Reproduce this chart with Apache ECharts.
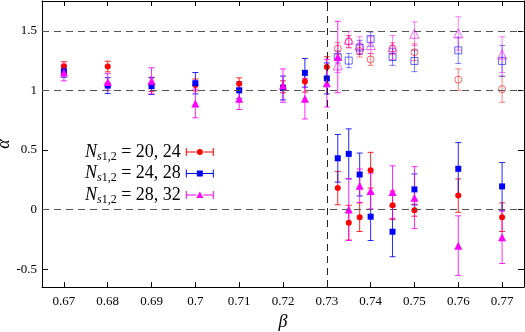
<!DOCTYPE html>
<html><head><meta charset="utf-8">
<script src="https://cdn.jsdelivr.net/npm/echarts@6/dist/echarts.min.js"></script>
<style>html,body{margin:0;padding:0;background:#fff}#c{width:525px;height:332px}</style>
</head><body><div id="c"></div>
<script>
// ---- data ----
const betas = [0.67,0.68,0.69,0.70,0.71,0.72,0.725,0.73,0.7325,0.735,0.7375,0.74,0.745,0.75,0.76,0.77];
const betasUpper = [0.7325,0.735,0.7375,0.74,0.745,0.75,0.76,0.77];

const alpha_20_24 = [1.20,1.20,1.05,1.045,1.055,1.03,1.075,1.197,0.18,-0.11,-0.064,0.33,0.036,-0.006,0.117,-0.064];
const err_20_24   = [0.04,0.045,0.06,0.05,0.05,0.05,0.09,0.085,0.14,0.146,0.12,0.15,0.12,0.05,0.14,0.12];
const alphaUp_20_24 = [1.35,1.41,1.33,1.26,1.35,1.32,1.09,1.01];
const errUp_20_24   = [0.05,0.05,0.05,0.05,0.05,0.07,0.09,0.11];

const alpha_24_28 = [1.16,1.04,1.035,1.06,1.0,1.02,1.147,1.10,0.43,0.467,0.294,-0.06,-0.186,0.169,0.342,0.194];
const err_24_28   = [0.05,0.067,0.07,0.09,0.07,0.10,0.12,0.13,0.2,0.21,0.18,0.2,0.21,0.13,0.22,0.2];
const alphaUp_24_28 = [1.28,1.25,1.36,1.43,1.28,1.247,1.336,1.247];
const errUp_24_28   = [0.05,0.06,0.06,0.06,0.07,0.09,0.11,0.13];

const alpha_28_32 = [1.15,1.07,1.08,0.89,0.93,1.04,0.93,1.06,1.28,0.0,0.2,0.155,0.147,0.1,-0.303,-0.233];
const err_28_32   = [0.07,0.07,0.11,0.12,0.09,0.14,0.17,0.2,0.3,0.26,0.14,0.15,0.22,0.26,0.25,0.22];
const alphaUp_28_32 = [1.21,1.425,1.38,1.38,1.36,1.475,1.478,1.30];
const errUp_28_32   = [0.06,0.07,0.07,0.07,0.1,0.1,0.14,0.15];

const legendSizes = ['20, 24','24, 28','28, 32'];
const xTickValues = [0.67,0.68,0.69,0.70,0.71,0.72,0.73,0.74,0.75,0.76,0.77];
const xTickLabels = ['0.67','0.68','0.69','0.7','0.71','0.72','0.73','0.74','0.75','0.76','0.77'];
const yTickValues = [-0.5,0,0.5,1,1.5];
const yTickLabels = ['-0.5','0','0.5','1','1.5'];
const refLinesY = [0,1,1.5];
const transitionBeta = 0.7312;

// ---- styles ----
const SERIF = '"Liberation Serif","DejaVu Serif",serif';
const colors = ['#ff0000','#0000ff','#ff00ff'];
const symbols = ['circle','rect','triangle'];
const symSize = [6,6,8];
const icons = [
 'path://M0 0H1V8H0Z M1 3.5H10.6V4.5H1Z M17.4 3.5H27V4.5H17.4Z M27 0H28V8H27Z M11 4A3 3 0 1 1 17 4A3 3 0 1 1 11 4Z',
 'path://M0 0H1V8H0Z M1 3.5H11V4.5H1Z M17 3.5H27V4.5H17Z M27 0H28V8H27Z M11 1H17V7H11Z',
 'path://M0 0H1V8H0Z M1 3.5H10.6V4.5H1Z M17.4 3.5H27V4.5H17.4Z M27 0H28V8H27Z M14 0.5L17.5 7L10.5 7Z'
];
const groups = [
 {a: alpha_20_24, e: err_20_24, au: alphaUp_20_24, eu: errUp_20_24},
 {a: alpha_24_28, e: err_24_28, au: alphaUp_24_28, eu: errUp_24_28},
 {a: alpha_28_32, e: err_28_32, au: alphaUp_28_32, eu: errUp_28_32}
];
const names = legendSizes.map(s => 'Ns1,2 = ' + s);

function errRender(color, opacity){
  return function(params, api){
    const x = api.value(0), lo = api.value(1), hi = api.value(2);
    const p1 = api.coord([x, lo]), p2 = api.coord([x, hi]);
    const w = 3;
    const st = {stroke: color, lineWidth: 1, opacity: opacity};
    return {type:'group', children:[
      {type:'line', shape:{x1:p1[0],y1:p1[1],x2:p2[0],y2:p2[1]}, style:st},
      {type:'line', shape:{x1:p1[0]-w,y1:p1[1],x2:p1[0]+w,y2:p1[1]}, style:st},
      {type:'line', shape:{x1:p2[0]-w,y1:p2[1],x2:p2[0]+w,y2:p2[1]}, style:st}
    ]};
  };
}

const series = [];
series.push({
  type:'line', name:'ref', data:[], silent:true,
  markLine:{silent:true, symbol:'none', label:{show:false}, animation:false,
    data: refLinesY.map(v => ({yAxis:v, lineStyle:{color:'#555', type:[7,5], width:1}}))
      .concat([{xAxis: transitionBeta, lineStyle:{color:'#222', type:[7,5], width:1}}])
  }
});
groups.forEach((g, i) => {
  const c = colors[i];
  series.push({
    type:'custom', name: 'err'+i, renderItem: errRender(c, 0.85),
    data: betas.map((b,k) => [b, g.a[k]-g.e[k], g.a[k]+g.e[k]]), z: 2
  });
  series.push({
    type:'custom', name: 'errUp'+i, renderItem: errRender(c, 0.5),
    data: betasUpper.map((b,k) => [b, g.au[k]-g.eu[k], g.au[k]+g.eu[k]]), z: 2
  });
  series.push({
    type:'scatter', name: 'open'+i, symbol: symbols[i], symbolSize: symSize[i]+1,
    itemStyle:{color:'rgba(255,255,255,0)', borderColor:c, borderWidth:1, opacity:0.6},
    data: betasUpper.map((b,k) => [b, g.au[k]]), z: 3
  });
  series.push({
    type:'scatter', name: names[i], symbol: symbols[i], symbolSize: symSize[i],
    itemStyle:{color:c, opacity:1},
    data: betas.map((b,k) => [b, g.a[k]]), z: 4
  });
});

const axisCommon = {
  axisLine:{show:true, onZero:false, lineStyle:{color:'#000', width:1}},
  splitLine:{show:false}
};
const option = {
  animation:false,
  backgroundColor:'#fff',
  grid:{left:42, right:1, top:1, bottom:45, containLabel:false, outerBoundsMode:'none'},
  xAxis:[
    Object.assign({type:'value', min:0.665, max:0.775, position:'bottom',
      axisTick:{inside:true, length:5, customValues:xTickValues, lineStyle:{color:'#000'}},
      axisLabel:{customValues:xTickValues, margin:8, fontFamily:SERIF, fontSize:13, color:'#000',
        formatter: v => xTickLabels[xTickValues.findIndex(t => Math.abs(t-v)<1e-6)]},
      name:'β', nameLocation:'middle', nameGap:26, nameMoveOverlap:false,
      nameTextStyle:{fontFamily:SERIF, fontStyle:'italic', fontSize:18, color:'#000'}
    }, axisCommon),
    Object.assign({type:'value', min:0.665, max:0.775, position:'top',
      axisTick:{inside:true, length:5, customValues:xTickValues, lineStyle:{color:'#000'}},
      axisLabel:{show:false}
    }, axisCommon)
  ],
  yAxis:[
    Object.assign({type:'value', min:-0.65, max:1.75, position:'left',
      axisTick:{inside:true, length:6, customValues:yTickValues, lineStyle:{color:'#000'}},
      axisLabel:{customValues:yTickValues, margin:5, fontFamily:SERIF, fontSize:13, color:'#000',
        formatter: v => yTickLabels[yTickValues.findIndex(t => Math.abs(t-v)<1e-6)]},
      name:'α', nameLocation:'middle', nameGap:29, nameMoveOverlap:false,
      nameTextStyle:{fontFamily:SERIF, fontStyle:'italic', fontSize:18, color:'#000'}
    }, axisCommon),
    Object.assign({type:'value', min:-0.65, max:1.75, position:'right',
      axisTick:{inside:true, length:6, customValues:yTickValues, lineStyle:{color:'#000'}},
      axisLabel:{show:false}
    }, axisCommon)
  ],
  legend:{
    data: names.map((n,i) => ({name:n, icon:icons[i]})),
    orient:'vertical', left:80, top:138, align:'right',
    itemWidth:28, itemHeight:8, itemGap:2,
    selectedMode:false,
    formatter: name => {
      const i = names.indexOf(name);
      return '{n|N}{s|s}{d|1,2}{e| = ' + legendSizes[i] + '}';
    },
    textStyle:{fontFamily:SERIF, fontSize:18, color:'#000',
      rich:{
        n:{fontFamily:SERIF, fontStyle:'italic', fontSize:18, color:'#000'},
        s:{fontFamily:SERIF, fontStyle:'italic', fontSize:12, color:'#000', padding:[9,0,0,0]},
        d:{fontFamily:SERIF, fontSize:12, color:'#000', padding:[9,0,0,0]},
        e:{fontFamily:SERIF, fontSize:18, color:'#000'}
      }
    }
  },
  series: series
};
const chart = echarts.init(document.getElementById('c'), null, {renderer:'canvas'});
chart.setOption(option);
</script>
</body></html>
